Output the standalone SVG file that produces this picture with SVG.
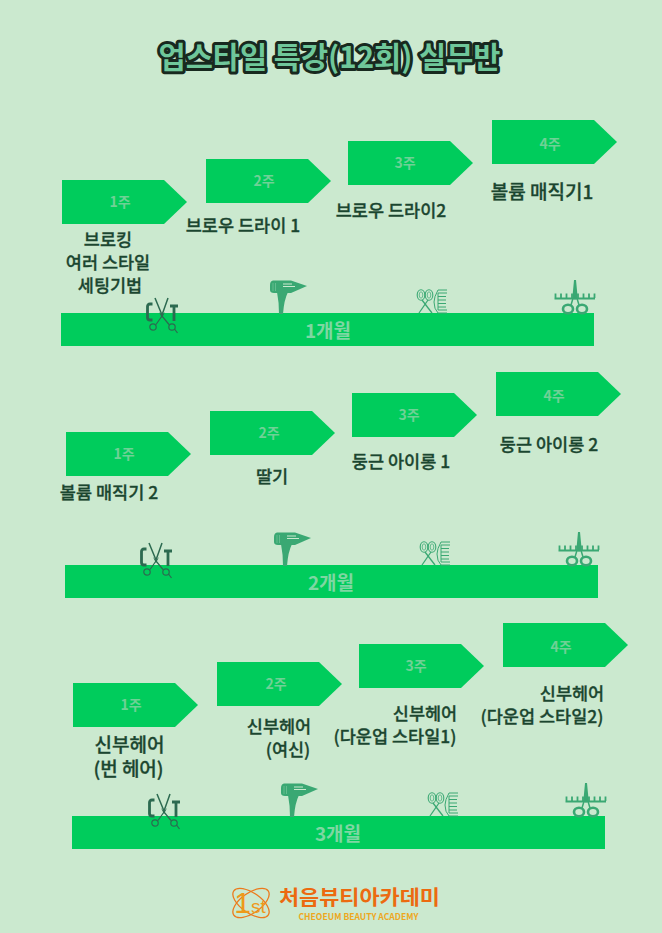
<svg xmlns="http://www.w3.org/2000/svg" width="662" height="933" viewBox="0 0 662 933">
<style>
text{font-family:"Noto Sans CJK KR","Noto Sans",sans-serif;text-anchor:middle;font-weight:700}
.wk{font-size:14px;fill:#6fd196}
.mo{font-size:19px;fill:#7ed7a2}
.lb{font-size:17.500px;fill:#1b4630;font-weight:500;stroke:#1b4630;stroke-width:.3px}
.lg{font-size:19px}
.ar{fill:#00cc5c}
.bar{fill:#00cc5c}
.g{fill:none;stroke:#3aa873;stroke-width:1.800}
.gf{fill:#3aa873;stroke:none}
.d{fill:none;stroke:#2c6a50;stroke-width:1.200}
</style>
<defs>
<path id="arrow" class="ar" d="M0 0H102L125 22L102 44H0Z"/>
<g id="cvt">
<path d="M6.500 6H4Q1.500 6 1.500 8.500V19.500Q1.500 22 4 22H6.500" fill="none" stroke="#2c6a50" stroke-width="2.800"/>
<path d="M24 8H32M28 8V23" fill="none" stroke="#2c6a50" stroke-width="2.800"/>
<path d="M9 0L16 17L22 0" fill="none" stroke="#2c6a50" stroke-width="1.500"/>
<path d="M13 14L16 17L19 14L16 20Z" fill="#2c6a50"/>
<path class="d" d="M16 18L10 26.500M16 18L23 26.500"/>
<circle class="d" cx="7" cy="29" r="3.200"/><circle class="d" cx="26" cy="29" r="3.200"/>
<path class="d" d="M28.500 31L31.500 35"/>
</g>
<g id="dryer">
<path class="gf" d="M3 0.500Q0 1 0 5V10Q0 13 4 13H21L37 6L21 0.500Z"/>
<path class="gf" d="M7 12H18Q14 20 13 34H9Q9 22 7 12Z"/>
<path d="M13 4H22M13 6.500H25" stroke="#cbe9cf" stroke-width="1" fill="none"/>
<path d="M3 3V11M5.500 3V11" stroke="#7fcba2" stroke-width=".6" fill="none"/>
</g>
<g id="combsc">
<ellipse class="g" cx="5" cy="6" rx="3.800" ry="5.300" style="stroke-width:1.100"/><ellipse class="g" cx="5" cy="6" rx="1.800" ry="3.200" style="stroke-width:.7"/>
<ellipse class="g" cx="13" cy="6" rx="3.800" ry="5.300" style="stroke-width:1.100"/><ellipse class="g" cx="13" cy="6" rx="1.800" ry="3.200" style="stroke-width:.7"/>
<path class="g" d="M6 11L16 24" style="stroke-width:1.300"/><path class="g" d="M12 11L3 24" style="stroke-width:1.300"/>
<path class="g" d="M31 1H22Q18 8 18 13Q18 20 22 24H31" style="stroke-width:1"/>
<path class="g" d="M22 4H31M22 7.500H30M22 11H30M22 14.500H30M22 18H30M22 21H31M22 4V21" style="stroke-width:1"/>
</g>
<g id="clip">
<path class="g" d="M0.500 18.500H41M1.500 13.500V18M7 13.500V18M12.500 13.500V18M18 13.500V18M24 13.500V18M29.500 13.500V18M35 13.500V18M40.500 13.500V18"/>
<path class="gf" d="M20 0H22L23.500 16L21 20L18.500 16Z"/>
<path class="g" d="M20 15L17 25M22 15L25 25" style="stroke-width:1.500"/>
<ellipse class="g" cx="14" cy="29" rx="5" ry="4.300" style="stroke-width:2.600"/><ellipse class="g" cx="28" cy="29" rx="5" ry="4.300" style="stroke-width:2.600"/>
</g>
</defs>
<rect width="662" height="933" fill="#cbe9cf"/>
<g id="title"><text x="329.500" y="67.500" font-size="29.500" fill="#6fc79a" stroke="#18291f" stroke-width="6" stroke-linejoin="round" paint-order="stroke">업스타일 특강(12회) 실무반</text></g>
<g id="connectors"></g>
<g id="month1">
<rect class="bar" x="61" y="313" width="533" height="33"/>
<text class="mo" x="328" y="338">1개월</text>
<use href="#cvt" x="146" y="298"/>
<use href="#dryer" x="270" y="280"/>
<use href="#combsc" x="416" y="289"/>
<use href="#clip" x="554" y="280"/>
</g>
<g id="m1w1"><use href="#arrow" x="62" y="180"/><text class="wk" x="120" y="206.500">1주</text><text class="lb" x="108" y="246">브로킹</text><text class="lb" x="108" y="269">여러 스타일</text><text class="lb" x="110" y="292">세팅기법</text></g>
<g id="m1w2"><use href="#arrow" x="206" y="159"/><text class="wk" x="264" y="185.500">2주</text><text class="lb" x="243" y="232">브로우 드라이 1</text></g>
<g id="m1w3"><use href="#arrow" x="348" y="141"/><text class="wk" x="405" y="167.500">3주</text><text class="lb" x="391" y="217">브로우 드라이2</text></g>
<g id="m1w4"><use href="#arrow" x="492" y="120"/><text class="wk" x="550" y="148.500">4주</text><text class="lb lg" x="542" y="199">볼륨 매직기1</text></g>
<g id="month2">
<rect class="bar" x="65" y="565" width="533" height="33"/>
<text class="mo" x="331" y="590">2개월</text>
<use href="#cvt" x="140" y="543"/>
<use href="#dryer" x="274" y="532"/>
<use href="#combsc" x="419" y="541"/>
<use href="#clip" x="558" y="532"/>
</g>
<g id="m2w1"><use href="#arrow" x="66" y="432"/><text class="wk" x="124" y="458.500">1주</text><text class="lb" x="109" y="499">볼륨 매직기 2</text></g>
<g id="m2w2"><use href="#arrow" x="210" y="411"/><text class="wk" x="269" y="437.500">2주</text><text class="lb" x="272" y="483">딸기</text></g>
<g id="m2w3"><use href="#arrow" x="352" y="393"/><text class="wk" x="409" y="419.500">3주</text><text class="lb" x="401" y="468">둥근 아이롱 1</text></g>
<g id="m2w4"><use href="#arrow" x="496" y="372"/><text class="wk" x="554" y="400.500">4주</text><text class="lb" x="549" y="451">둥근 아이롱 2</text></g>
<g id="month3">
<rect class="bar" x="72" y="816" width="533" height="33"/>
<text class="mo" x="338" y="841">3개월</text>
<use href="#cvt" x="148" y="794"/>
<use href="#dryer" x="281" y="783"/>
<use href="#combsc" x="427" y="792"/>
<use href="#clip" x="565" y="783"/>
</g>
<g id="m3w1"><use href="#arrow" x="73" y="683"/><text class="wk" x="131" y="709.500">1주</text><text class="lb lg" x="129.500" y="752">신부헤어</text><text class="lb lg" x="128.500" y="776">(번 헤어)</text></g>
<g id="m3w2"><use href="#arrow" x="217" y="662"/><text class="wk" x="276" y="688.500">2주</text><text class="lb" x="279" y="733">신부헤어</text><text class="lb" x="288" y="756">(여신)</text></g>
<g id="m3w3"><use href="#arrow" x="359" y="644"/><text class="wk" x="416" y="670.500">3주</text><text class="lb" x="425" y="720">신부헤어</text><text class="lb" x="395" y="743">(다운업 스타일1)</text></g>
<g id="m3w4"><use href="#arrow" x="503" y="623"/><text class="wk" x="561" y="651.500">4주</text><text class="lb" x="572" y="700">신부헤어</text><text class="lb" x="542" y="723">(다운업 스타일2)</text></g>
<g id="logo">
<ellipse cx="251" cy="903" rx="21" ry="10" fill="none" stroke="#ec7a1c" stroke-width="1.300" transform="rotate(35 251 903)"/>
<ellipse cx="251" cy="903" rx="21" ry="10" fill="none" stroke="#ec7a1c" stroke-width="1.300" transform="rotate(-35 251 903)"/>
<text x="250" y="913" fill="#ee9a1a" style="font-family:'Liberation Sans',sans-serif;font-weight:400"><tspan font-size="30">1</tspan><tspan font-size="19">st</tspan></text>
<text x="359.500" y="905" font-size="20" fill="#ec6a10" textLength="161" lengthAdjust="spacingAndGlyphs">처음뷰티아카데미</text>
<text x="358.500" y="920" font-size="9" fill="#eea81e" font-weight="400" textLength="120" lengthAdjust="spacingAndGlyphs">CHEOEUM BEAUTY ACADEMY</text>
</g>
</svg>
